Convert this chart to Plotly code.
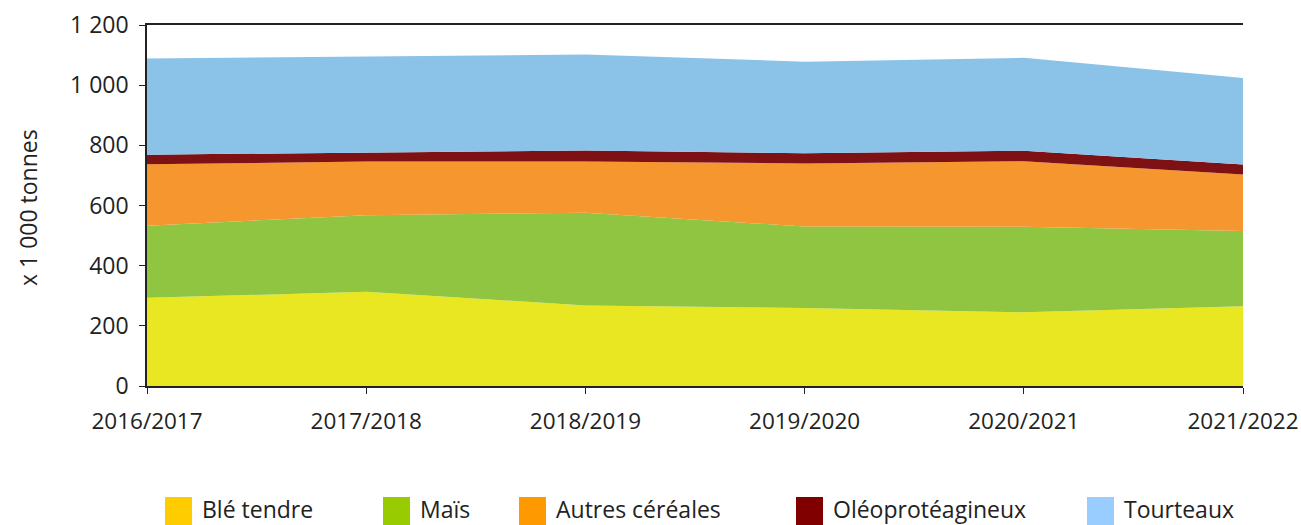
import plotly.graph_objects as go

campagnes = ["2016/2017", "2017/2018", "2018/2019", "2019/2020", "2020/2021", "2021/2022"]
ble_tendre = [293, 313, 268, 259, 245, 265]
mais = [240, 255, 308, 271, 284, 250]
autres_cereales = [204, 178, 170, 210, 218, 188]
oleoproteagineux = [32, 30, 37, 34, 35, 33]
tourteaux = [320, 319, 319, 304, 309, 288]

y_ticks = [0, 200, 400, 600, 800, 1000, 1200]
y_tick_labels = ["0", "200", "400", "600", "800", "1 000", "1 200"]

series = [
    ("Blé tendre", ble_tendre, "#E9E622", "#FFCC00"),
    ("Maïs", mais, "#8FC541", "#99CC00"),
    ("Autres céréales", autres_cereales, "#F6962E", "#FF9900"),
    ("Oléoprotéagineux", oleoproteagineux, "#7D1114", "#800000"),
    ("Tourteaux", tourteaux, "#8BC2E8", "#99CCFF"),
]

FONT = "Open Sans"
TXT = "#222222"
xs = list(range(len(campagnes)))

fig = go.Figure()
for name, vals, fill, _ in series:
    fig.add_trace(go.Scatter(
        x=xs, y=vals, name=name, mode="lines", stackgroup="one",
        line=dict(width=0, color=fill), fillcolor=fill, showlegend=False,
        hoverinfo="x+y+name",
    ))

# body margin is removed by post_script, so the figure fills the 1301x525 window
W, H = 1301, 525
PL, PR, PT, PB = 147, 1243, 25, 386
pw, ph = PR - PL, PB - PT


def px(x):
    return (x - PL) / pw


def py(y):
    return (PB - y) / ph


legend_x = [165, 383, 519, 796, 1087]
shapes = []
annotations = []
for (name, _, _, sw), lx in zip(series, legend_x):
    shapes.append(dict(type="rect", xref="paper", yref="paper",
                       x0=px(lx), x1=px(lx + 27), y0=py(525), y1=py(497),
                       fillcolor=sw, line=dict(width=0)))
    annotations.append(dict(xref="paper", yref="paper", x=px(lx + 36),
                            y=py(509), text=name, showarrow=False,
                            xanchor="left", yanchor="middle", borderpad=0,
                            font=dict(family=FONT, size=23, color=TXT)))

annotations.append(dict(xref="paper", yref="paper", x=px(28), y=py(208),
                        text="x 1 000 tonnes", textangle=-90, showarrow=False,
                        xanchor="center", yanchor="middle",
                        font=dict(family=FONT, size=23, color=TXT)))

fig.update_layout(
    width=W, height=H,
    margin=dict(l=PL, r=W - PR, t=PT, b=H - PB, autoexpand=False),
    paper_bgcolor="white", plot_bgcolor="white",
    showlegend=False,
    shapes=shapes, annotations=annotations,
    xaxis=dict(
        range=[0, len(campagnes) - 1], tickvals=xs, ticktext=campagnes,
        showgrid=False, zeroline=False, showline=True, linecolor=TXT,
        linewidth=1.5, mirror=True, ticks="outside", ticklen=6, tickcolor=TXT,
        tickfont=dict(family=FONT, size=22.5, color=TXT),
        ticklabelstandoff=8, automargin=False, ticklabeloverflow="allow",
    ),
    yaxis=dict(
        range=[0, 1200], tickvals=y_ticks, ticktext=y_tick_labels,
        showgrid=False, zeroline=False, showline=True, linecolor=TXT,
        linewidth=1.5, ticks="outside", ticklen=6, tickcolor=TXT,
        tickfont=dict(family=FONT, size=23, color=TXT),
        ticklabelstandoff=6, automargin=False,
    ),
)

fig.write_html(
    "out.html",
    config={"displayModeBar": False},
    post_script="document.body.style.margin='0';document.body.style.overflow='hidden';",
)
